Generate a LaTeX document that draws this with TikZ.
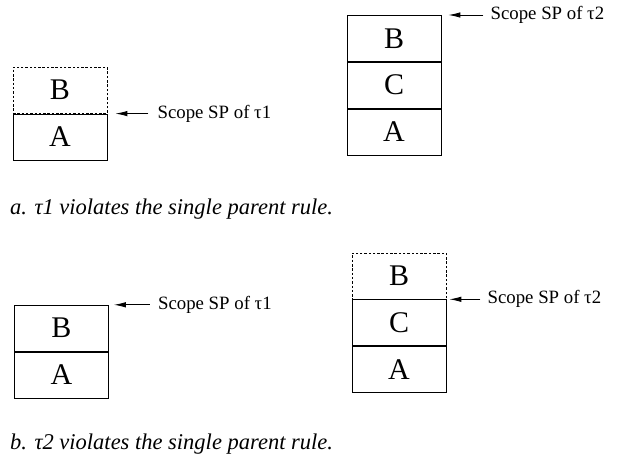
\documentclass[tikz,border=0pt]{standalone}
\usepackage{fontspec}
\setmainfont{Liberation Serif}
\usepackage{tikz}
\usetikzlibrary{arrows.meta,positioning}

\begin{document}
\begin{tikzpicture}[
  x=1pt,y=-1pt,
  node distance=0pt,
  cell/.style={draw,line width=0.8pt,minimum width=94pt,minimum height=46pt,inner sep=0pt,font=\fontsize{30}{30}\selectfont},
  outcell/.style={cell,dash pattern=on 2.5pt off 1.8pt},
  lbl/.style={anchor=west,inner sep=0pt,font=\fontsize{18.8}{19}\selectfont},
  capt/.style={anchor=base west,inner sep=0pt,font=\fontsize{22.5}{23}\selectfont\itshape},
  arr/.style={-{Latex[length=12pt,width=5.5pt]},line width=0.9pt}
]
\useasboundingbox (0,0) rectangle (618,463);
% a. tau1 violates the rule
\node[cell] (a1A) at (60,137) {A};
\node[outcell,above=of a1A] (a1B) {B};
\node[cell] (a2A) at (394,132) {A};
\node[cell,above=of a2A] (a2C) {C};
\node[cell,above=of a2C] (a2B) {B};
\coordinate (a1tip) at ([xshift=8pt]a1A.north east);
\coordinate (a2tip) at ([xshift=7pt]a2B.north east);
\node[lbl,right=42pt of a1tip] (a1lbl) {Scope SP of τ1};
\node[lbl,right=42pt of a2tip] (a2lbl) {Scope SP of τ2};
\draw[arr] (a1lbl.west) ++(-9pt,0) -- (a1tip);
\draw[arr] (a2lbl.west) ++(-7pt,0) -- (a2tip);
\node[capt] (capa) at (10,214) {a. τ1 violates the single parent rule.};
% b. tau2 violates the rule
\node[cell] (b1A) at (61.5,375) {A};
\node[cell,above=of b1A] (b1B) {B};
\node[cell] (b2A) at (399,369.5) {A};
\node[cell,above=of b2A] (b2C) {C};
\node[outcell,above=of b2C] (b2B) {B};
\coordinate (b1tip) at ([xshift=5pt]b1B.north east);
\coordinate (b2tip) at ([xshift=3pt]b2C.north east);
\node[lbl,right=44pt of b1tip] (b1lbl) {Scope SP of τ1};
\node[lbl,right=38pt of b2tip] (b2lbl) {Scope SP of τ2};
\draw[arr] (b1lbl.west) ++(-8pt,0) -- (b1tip);
\draw[arr] (b2lbl.west) ++(-7pt,0) -- (b2tip);
\node[capt] (capb) at (10,449) {b. τ2 violates the single parent rule.};
\end{tikzpicture}
\end{document}
